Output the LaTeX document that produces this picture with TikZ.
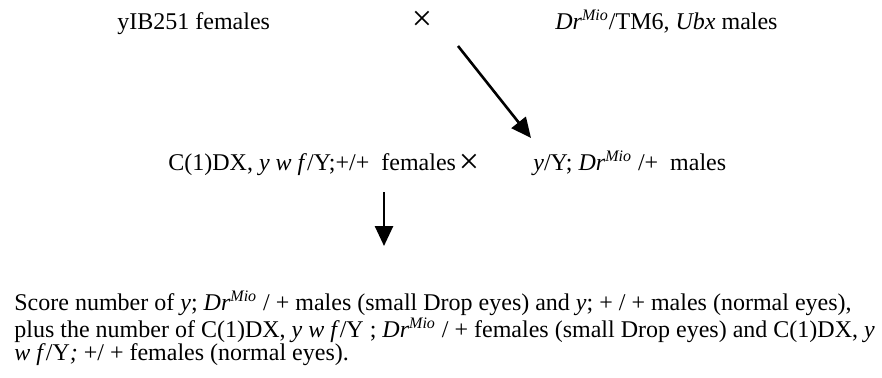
\documentclass[tikz,border=0pt]{standalone}
\usepackage{fontspec}
\setmainfont{Liberation Serif}
\usetikzlibrary{arrows.meta}
\newcommand{\DrMio}{\textit{Dr}\textsuperscript{\textit{Mio}}}
\tikzset{
  lbl/.style={anchor=base west, inner sep=0pt, font=\fontsize{12pt}{14.4pt}\selectfont},
  para/.style={anchor=base west, inner sep=0pt, align=left, font=\fontsize{12pt}{11.5pt}\selectfont},
  cross/.style={inner sep=0pt, font=\fontsize{18pt}{20pt}\selectfont},
  arr/.style={line width=1.3pt, -{Triangle[length=10pt,width=9pt]}}
}
\begin{document}
\begin{tikzpicture}[x=0.5pt,y=-0.5pt]
\useasboundingbox (0,0) rectangle (882,377);
\node[lbl] (fem1) at (117,29) {yIB251 females};
\node[cross] (x1) at (422,21) {\texttimes};
\node[lbl] (male1) at (555,29) {\DrMio/TM6, \textit{Ubx} males};
\node[lbl] (fem2) at (168,170) {C(1)DX, \textit{y w f}/Y;+/+\ \ females};
\node[cross] (x2) at (469,164) {\texttimes};
\node[lbl] (male2) at (533,170) {\textit{y}/Y; \DrMio\ /+\ \ males};
\node[para] (score) at (14,360) {Score number of \textit{y}; \DrMio\ / + males (small Drop eyes) and \textit{y}; + / + males (normal eyes),\\
plus the number of C(1)DX, \textit{y w f}/Y ; \DrMio\ / + females (small Drop eyes) and C(1)DX, \textit{y}\\
\textit{w f}/Y\textit{;} +/ + females (normal eyes).};
\coordinate (d1) at (458,46);
\coordinate (d2) at (531,138);
\coordinate (v1) at (384,192);
\coordinate (v2) at (384,246);
\draw[arr] (d1) -- (d2);
\draw[arr] (v1) -- (v2);
\end{tikzpicture}
\end{document}
